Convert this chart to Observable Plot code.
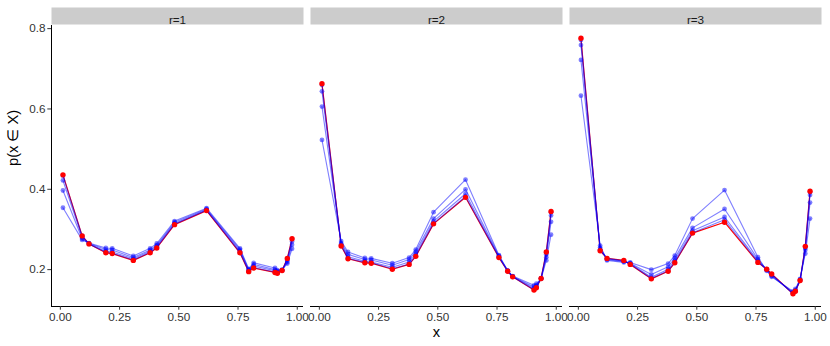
<!DOCTYPE html>
<html>
<head>
<meta charset="utf-8">
<script src="https://cdn.jsdelivr.net/npm/d3@7"></script>
<script src="https://cdn.jsdelivr.net/npm/@observablehq/plot@0.6"></script>
<style>
  html, body { margin: 0; padding: 0; background: #fff; }
</style>
</head>
<body>
<div id="chart"></div>
<script>
// shared x positions
const xs = [0.011, 0.092, 0.121, 0.192, 0.219, 0.308, 0.379, 0.407, 0.482, 0.617, 0.758, 0.795, 0.816, 0.906, 0.916, 0.936, 0.958, 0.978];

// r = 1
const r1It1 = [0.354, 0.274, 0.266, 0.254, 0.253, 0.234, 0.253, 0.265, 0.321, 0.353, 0.253, 0.202, 0.217, 0.204, 0.199, 0.200, 0.215, 0.252];
const r1It2 = [0.397, 0.277, 0.265, 0.250, 0.249, 0.230, 0.249, 0.261, 0.318, 0.351, 0.250, 0.200, 0.213, 0.200, 0.196, 0.199, 0.219, 0.262];
const r1It3 = [0.422, 0.281, 0.264, 0.246, 0.244, 0.227, 0.246, 0.258, 0.315, 0.349, 0.246, 0.198, 0.209, 0.197, 0.194, 0.198, 0.223, 0.270];
const r1It4 = [0.434, 0.284, 0.264, 0.243, 0.241, 0.224, 0.243, 0.255, 0.313, 0.348, 0.243, 0.196, 0.205, 0.194, 0.192, 0.198, 0.227, 0.276];
const r1Final = [0.436, 0.284, 0.264, 0.242, 0.240, 0.223, 0.242, 0.254, 0.312, 0.347, 0.242, 0.195, 0.204, 0.193, 0.191, 0.198, 0.228, 0.277];

// r = 2
const r2It1 = [0.523, 0.271, 0.244, 0.229, 0.228, 0.216, 0.230, 0.250, 0.343, 0.424, 0.236, 0.198, 0.184, 0.161, 0.165, 0.177, 0.223, 0.287];
const r2It2 = [0.606, 0.266, 0.238, 0.225, 0.224, 0.211, 0.225, 0.245, 0.327, 0.400, 0.234, 0.197, 0.183, 0.157, 0.161, 0.178, 0.231, 0.319];
const r2It3 = [0.644, 0.263, 0.232, 0.221, 0.219, 0.206, 0.219, 0.239, 0.320, 0.389, 0.232, 0.197, 0.183, 0.153, 0.158, 0.178, 0.238, 0.335];
const r2It4 = [0.660, 0.260, 0.228, 0.218, 0.217, 0.202, 0.214, 0.234, 0.315, 0.382, 0.231, 0.196, 0.182, 0.150, 0.156, 0.178, 0.243, 0.343];
const r2Final = [0.663, 0.259, 0.227, 0.217, 0.216, 0.201, 0.213, 0.233, 0.314, 0.380, 0.230, 0.196, 0.182, 0.149, 0.155, 0.178, 0.244, 0.345];

// r = 3
const r3It1 = [0.633, 0.260, 0.223, 0.218, 0.218, 0.200, 0.215, 0.235, 0.327, 0.398, 0.231, 0.197, 0.182, 0.146, 0.152, 0.177, 0.240, 0.327];
const r3It2 = [0.722, 0.255, 0.225, 0.220, 0.216, 0.188, 0.207, 0.229, 0.304, 0.351, 0.226, 0.199, 0.184, 0.143, 0.149, 0.175, 0.249, 0.367];
const r3It3 = [0.759, 0.251, 0.227, 0.221, 0.215, 0.181, 0.201, 0.223, 0.297, 0.331, 0.222, 0.200, 0.187, 0.141, 0.147, 0.174, 0.254, 0.386];
const r3It4 = [0.772, 0.248, 0.228, 0.222, 0.214, 0.178, 0.197, 0.218, 0.292, 0.324, 0.219, 0.201, 0.188, 0.140, 0.146, 0.173, 0.257, 0.393];
const r3Final = [0.776, 0.247, 0.228, 0.223, 0.213, 0.177, 0.196, 0.217, 0.291, 0.318, 0.218, 0.201, 0.189, 0.140, 0.146, 0.173, 0.258, 0.395];

const rValues = [1, 2, 3];
const xTicks = [0, 0.25, 0.5, 0.75, 1];
const yTicks = [0.2, 0.4, 0.6, 0.8];

const iterSeries = {
  1: [r1It1, r1It2, r1It3, r1It4],
  2: [r2It1, r2It2, r2It3, r2It4],
  3: [r3It1, r3It2, r3It3, r3It4]
};
const finalSeries = {1: r1Final, 2: r2Final, 3: r3Final};

const blueRows = [];
const redRows = [];
for (const r of rValues) {
  iterSeries[r].forEach((vals, k) => {
    vals.forEach((p, i) => blueRows.push({r, series: `it${k + 1}`, x: xs[i], p}));
  });
  finalSeries[r].forEach((p, i) => redRows.push({r, series: "final", x: xs[i], p}));
}

// ggplot-like expanded domains (5%)
const allP = [...blueRows, ...redRows].map(d => d.p);
const pMin = d3.min(allP), pMax = d3.max(allP);
const xMin = d3.min(xs), xMax = d3.max(xs);
const xDomain = [xMin - 0.05 * (xMax - xMin), xMax + 0.05 * (xMax - xMin)];
const yDomain = [pMin - 0.05 * (pMax - pMin), pMax + 0.05 * (pMax - pMin)];

const font = "'Liberation Sans', Arial, Helvetica, sans-serif";

const chart = Plot.plot({
  width: 830,
  height: 346,
  marginLeft: 50,
  marginRight: 7,
  marginTop: 25,
  marginBottom: 40,
  style: {fontFamily: font, background: "#fff", overflow: "visible"},
  fx: {domain: rValues, paddingInner: 0.0269, paddingOuter: 0, axis: null},
  x: {domain: xDomain},
  y: {domain: yDomain},
  marks: [
    // strips
    Plot.frame({fill: "#cccccc", stroke: null, insetTop: -18, insetBottom: 282}),
    Plot.text(rValues, {fx: d => d, text: d => `r=${d}`, frameAnchor: "top", dy: -9.5, fontSize: 11.7, fill: "#1a1a1a"}),
    // axis lines
    Plot.ruleY([yDomain[0]], {stroke: "#000", strokeWidth: 1}),
    Plot.ruleX([{r: 1}], {x: () => xDomain[0], fx: "r", stroke: "#000", strokeWidth: 1}),
    Plot.axisY({ticks: yTicks, tickFormat: d3.format(".1f"), tickSize: 3.7, tickPadding: 2.2, fontSize: 11.7, color: "#333", label: null}),
    Plot.axisX({ticks: xTicks, tickFormat: d3.format(".2f"), tickSize: 3.7, tickPadding: 2.2, fontSize: 11.7, color: "#333", label: null}),
    // data
    Plot.line(redRows, {x: "x", y: "p", fx: "r", z: "series", stroke: "red", strokeWidth: 1.2}),
    Plot.line(blueRows, {x: "x", y: "p", fx: "r", z: "series", stroke: "blue", strokeOpacity: 0.5, strokeWidth: 1.1}),
    Plot.dot(blueRows, {x: "x", y: "p", fx: "r", fill: "blue", fillOpacity: 0.5, r: 2.4}),
    Plot.dot(redRows, {x: "x", y: "p", fx: "r", fill: "red", r: 2.7}),
    // titles
    Plot.text(["x"], {facet: "super", frameAnchor: "bottom", dy: 30, fontSize: 14.7, fill: "#000"}),
    Plot.text(["p(x ∈ X)"], {facet: "super", frameAnchor: "left", dx: -38, rotate: -90, fontSize: 14.7, fill: "#000"})
  ]
});

document.getElementById("chart").appendChild(chart);
</script>
</body>
</html>
